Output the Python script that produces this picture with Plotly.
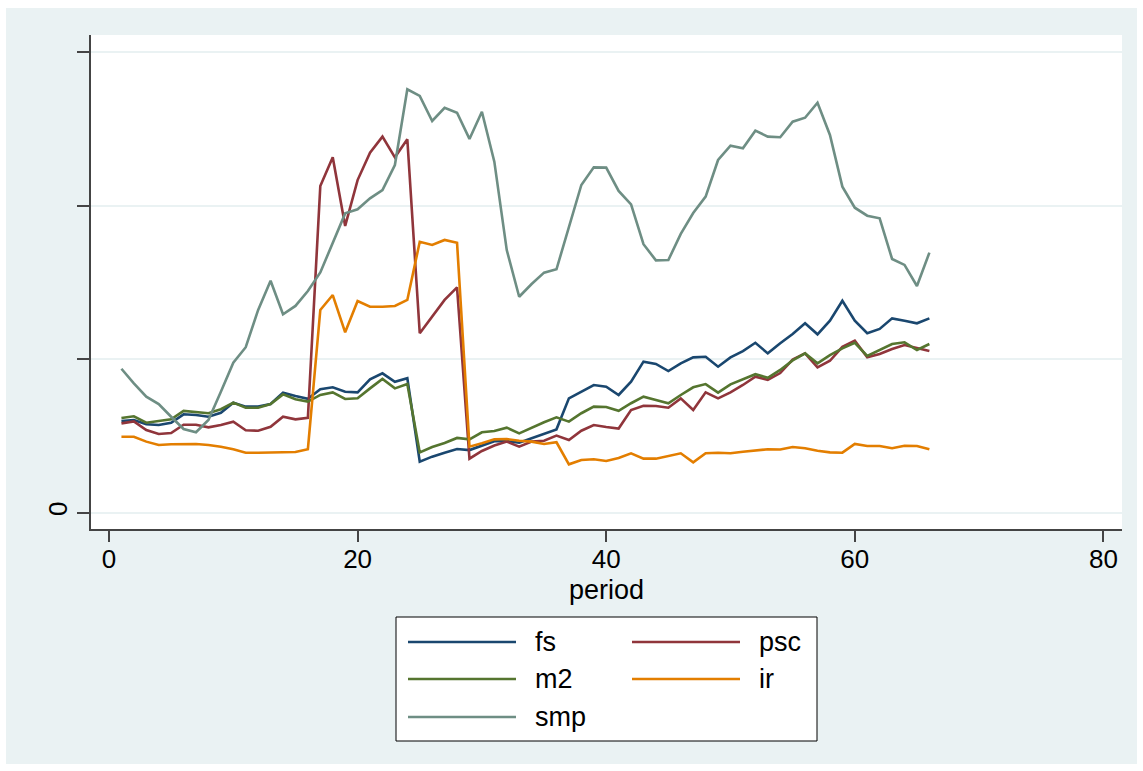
import plotly.graph_objects as go

# ---- data -----------------------------------------------------------------
period = list(range(1, 67))

fs = [0.597, 0.604, 0.576, 0.571, 0.586, 0.641, 0.636, 0.625, 0.651, 0.717,
      0.691, 0.691, 0.708, 0.782, 0.760, 0.742, 0.804, 0.817, 0.788, 0.784,
      0.869, 0.908, 0.853, 0.876, 0.332, 0.365, 0.391, 0.415, 0.408, 0.438,
      0.466, 0.467, 0.456, 0.485, 0.513, 0.543, 0.745, 0.788, 0.832, 0.821,
      0.767, 0.853, 0.984, 0.969, 0.923, 0.973, 1.012, 1.016, 0.951, 1.012,
      1.053, 1.107, 1.038, 1.104, 1.164, 1.234, 1.162, 1.251, 1.381, 1.251,
      1.169, 1.197, 1.266, 1.251, 1.234, 1.266]

psc = [0.582, 0.595, 0.539, 0.513, 0.519, 0.573, 0.573, 0.556, 0.571, 0.593,
       0.537, 0.534, 0.560, 0.625, 0.608, 0.618, 2.128, 2.315, 1.868, 2.167,
       2.345, 2.450, 2.315, 2.433, 1.169, 1.277, 1.386, 1.468, 0.352, 0.402,
       0.438, 0.463, 0.430, 0.463, 0.469, 0.502, 0.474, 0.534, 0.571, 0.558,
       0.548, 0.669, 0.697, 0.695, 0.684, 0.745, 0.669, 0.784, 0.745, 0.784,
       0.832, 0.886, 0.865, 0.910, 0.997, 1.038, 0.947, 0.990, 1.081, 1.121,
       1.012, 1.034, 1.066, 1.092, 1.071, 1.053]

m2 = [0.617, 0.628, 0.586, 0.597, 0.608, 0.663, 0.656, 0.648, 0.674, 0.717,
      0.684, 0.684, 0.708, 0.771, 0.739, 0.724, 0.767, 0.784, 0.741, 0.745,
      0.810, 0.871, 0.810, 0.838, 0.393, 0.428, 0.454, 0.487, 0.478, 0.524,
      0.532, 0.554, 0.517, 0.554, 0.589, 0.621, 0.593, 0.648, 0.691, 0.689,
      0.664, 0.713, 0.756, 0.734, 0.713, 0.767, 0.817, 0.838, 0.782, 0.836,
      0.869, 0.902, 0.879, 0.930, 0.992, 1.038, 0.973, 1.027, 1.071, 1.107,
      1.021, 1.060, 1.099, 1.110, 1.060, 1.099]

ir = [0.495, 0.495, 0.463, 0.441, 0.446, 0.446, 0.448, 0.441, 0.430, 0.413,
      0.391, 0.391, 0.393, 0.395, 0.395, 0.414, 1.321, 1.418, 1.175, 1.379,
      1.342, 1.342, 1.347, 1.386, 1.765, 1.744, 1.777, 1.759, 0.430, 0.452,
      0.478, 0.480, 0.469, 0.463, 0.448, 0.459, 0.315, 0.343, 0.348, 0.337,
      0.356, 0.387, 0.352, 0.352, 0.369, 0.387, 0.328, 0.387, 0.391, 0.387,
      0.397, 0.404, 0.413, 0.412, 0.428, 0.420, 0.404, 0.393, 0.391, 0.448,
      0.435, 0.435, 0.420, 0.436, 0.435, 0.413]

smp = [0.938, 0.843, 0.756, 0.708, 0.625, 0.545, 0.524, 0.604, 0.788, 0.977,
       1.078, 1.321, 1.511, 1.293, 1.347, 1.444, 1.565, 1.755, 1.950, 1.977,
       2.048, 2.102, 2.265, 2.758, 2.715, 2.552, 2.638, 2.606, 2.435, 2.612,
       2.287, 1.711, 1.407, 1.490, 1.564, 1.586, 1.863, 2.135, 2.250, 2.248,
       2.096, 2.009, 1.749, 1.644, 1.646, 1.816, 1.952, 2.059, 2.298, 2.391,
       2.374, 2.489, 2.450, 2.446, 2.547, 2.573, 2.671, 2.461, 2.124, 1.987,
       1.935, 1.918, 1.653, 1.614, 1.477, 1.694]

series_names = ["fs", "psc", "m2", "ir", "smp"]
series_values = [fs, psc, m2, ir, smp]
series_colors = ["#1a476f", "#90353b", "#55752f", "#e37e00", "#6e8e84"]

x_ticks = [0, 20, 40, 60, 80]
y_ticks = [0, 1, 2, 3]
y_ticklabels = ["0", "", "", ""]

# ---- geometry (pixels) ----------------------------------------------------
W, H = 1143, 771
L, R, T, B = 91, 1122, 35, 529          # plot area edges
BG = "#EAF2F3"
FONT = "Liberation Sans, Arial, sans-serif"
LINE_W = 2.6


def px(xp):
    return (xp - L) / (R - L)


def py(yp):
    return (B - yp) / (B - T)


fig = go.Figure()
for name, vals, col in zip(series_names, series_values, series_colors):
    fig.add_trace(go.Scatter(x=period, y=vals, mode="lines", name=name,
                             line=dict(color=col, width=LINE_W),
                             showlegend=False))

shapes = [
    # outer graph region
    dict(type="rect", xref="paper", yref="paper", layer="below",
         x0=px(6), x1=px(1137), y0=py(8), y1=py(764),
         fillcolor=BG, line=dict(width=0)),
    # plot region
    dict(type="rect", xref="paper", yref="paper", layer="below",
         x0=0, x1=1, y0=0, y1=1, fillcolor="white", line=dict(width=0)),
    # legend frame
    dict(type="rect", xref="paper", yref="paper",
         x0=px(396), x1=px(817), y0=py(741), y1=py(617),
         fillcolor="white", line=dict(color="black", width=1)),
]
annotations = [
    dict(text="period", xref="paper", yref="paper", x=px(606), y=py(590),
         xanchor="center", yanchor="middle", showarrow=False,
         font=dict(family=FONT, size=27, color="black")),
]

# two-column legend, filled row by row
col_x = [(408, 516, 533), (632, 740, 757)]
row_y = [642, 679, 717]
for i, (name, col) in enumerate(zip(series_names, series_colors)):
    lx0, lx1, tx = col_x[i % 2]
    ry = row_y[i // 2]
    shapes.append(dict(type="line", xref="paper", yref="paper",
                       x0=px(lx0), x1=px(lx1), y0=py(ry), y1=py(ry),
                       line=dict(color=col, width=LINE_W)))
    annotations.append(dict(text=name, xref="paper", yref="paper",
                            x=px(tx), y=py(ry), xanchor="left",
                            yanchor="middle", showarrow=False,
                            font=dict(family=FONT, size=27, color="black")))

x_range = [(L - 109) / 12.43, (R - 109) / 12.43]
y_range = [(512.7 - B) / 153.5, (512.7 - T) / 153.5]

fig.update_layout(
    width=W, height=H,
    margin=dict(l=L, r=W - R, t=T, b=H - B, pad=0),
    paper_bgcolor="white", plot_bgcolor="rgba(0,0,0,0)",
    font=dict(family=FONT, size=26, color="black"),
    shapes=shapes, annotations=annotations,
    xaxis=dict(range=x_range, tickvals=x_ticks, ticks="outside", ticklen=11,
               tickwidth=1.5, tickcolor="#444", showgrid=False,
               zeroline=False, showline=True, linecolor="#444", linewidth=2,
               ticklabelstandoff=-5,
               tickfont=dict(family=FONT, size=26, color="black")),
    yaxis=dict(range=y_range, tickvals=y_ticks, ticktext=y_ticklabels,
               ticks="outside", ticklen=12, tickwidth=1.5, tickcolor="#444",
               tickangle=-90, showgrid=True, gridcolor=BG, gridwidth=2,
               zeroline=False, showline=True, linecolor="#444", linewidth=2,
               tickfont=dict(family=FONT, size=26, color="black")),
)

fig.write_html("out.html")
